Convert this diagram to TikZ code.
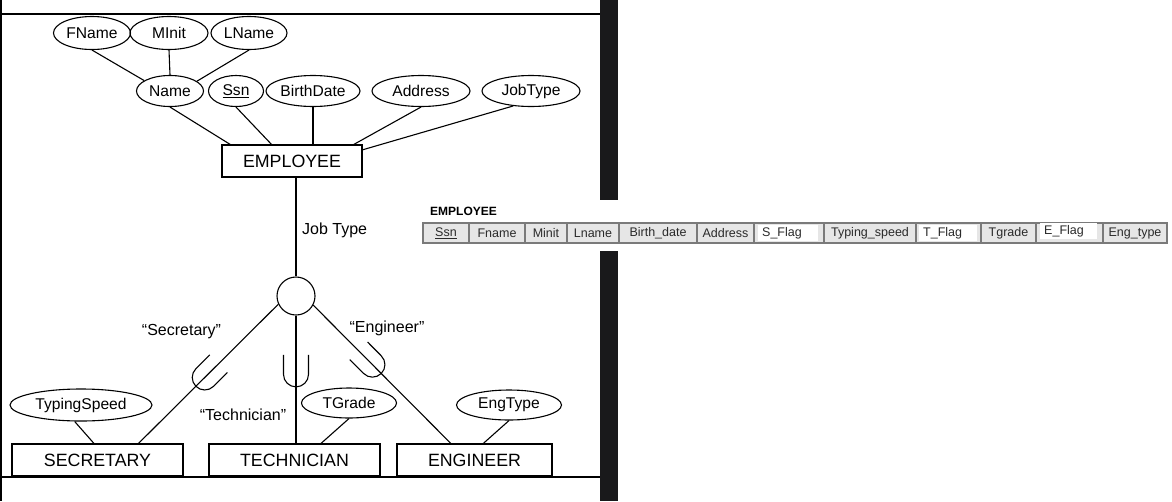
\documentclass[tikz,border=0pt]{standalone}
\usepackage{fontspec}
\setmainfont{Liberation Sans}
\usetikzlibrary{shapes.geometric}
\definecolor{strip}{HTML}{19191B}
\definecolor{cellgray}{HTML}{E6E6E6}
\definecolor{celledge}{HTML}{7A7A7A}
\definecolor{celltext}{HTML}{2A2A2A}
\tikzset{
  attr/.style={draw, ellipse, line width=1.1pt, inner sep=0pt, font=\fontsize{15.6}{18}\selectfont},
  entity/.style={draw, rectangle, line width=1.1pt, inner sep=0pt, minimum height=32pt, font=\fontsize{17.8}{20}\selectfont},
  lbl/.style={inner sep=0pt, font=\fontsize{16}{19}\selectfont},
  link/.style={line width=1.1pt},
  cell/.style={draw=celledge, fill=cellgray, line width=1.2pt, minimum height=20pt, inner sep=0pt, text=celltext, font=\fontsize{12.5}{14}\selectfont},
  flagbox/.style={fill=white, inner xsep=4pt, inner ysep=0pt, minimum height=16pt, anchor=west, align=left, text=celltext, font=\fontsize{12.5}{14}\selectfont},
  subsetsym/.pic={\draw[link] (-19.5,-12.5) -- (0,-12.5) arc(-90:90:12.5) -- (-19.5,12.5);}
}
\begin{document}
\begin{tikzpicture}[x=1pt, y=-1pt]
    \useasboundingbox (0,0) rectangle (1172,501);
    % frame and dark strip
    \fill[strip] (600,0) rectangle (618,200);
    \fill[strip] (600,251) rectangle (618,501);
    \draw[link] (0,14) -- (600,14);
    \draw[link] (1,0) -- (1,501);
    \draw[link] (0,477) -- (600,477);

    % attributes
    \node[attr, minimum width=77pt, minimum height=33pt] (fname) at (92,33) {FName};
    \node[attr, minimum width=78pt, minimum height=33pt] (minit) at (169,33) {MInit};
    \node[attr, minimum width=76pt, minimum height=33pt] (lname) at (249,33) {LName};
    \node[attr, minimum width=67pt, minimum height=31pt] (name) at (170,91) {Name};
    \node[attr, minimum width=55pt, minimum height=31pt] (ssn) at (236,91) {\underline{Ssn}};
    \node[attr, minimum width=94pt, minimum height=31pt] (bdate) at (313,91) {BirthDate};
    \node[attr, minimum width=98pt, minimum height=31pt] (addr) at (421,91) {Address};
    \node[attr, minimum width=98pt, minimum height=31pt] (jobt) at (531,91) {JobType};
    \node[attr, minimum width=142pt, minimum height=32pt] (tspeed) at (81,405) {TypingSpeed};
    \node[attr, minimum width=95pt, minimum height=30pt] (tgrade) at (349,403) {TGrade};
    \node[attr, minimum width=105pt, minimum height=30pt] (engt) at (509,405) {EngType};

    % entities
    \node[entity, minimum width=140pt] (emp) at (292,161) {EMPLOYEE};
    \node[draw, circle, line width=1.1pt, minimum size=38pt, inner sep=0pt] (circ) at (296,296) {};
    \node[entity, minimum width=171pt] (sec) at (97.5,460) {SECRETARY};
    \node[entity, minimum width=171pt] (tech) at (294.5,460) {TECHNICIAN};
    \node[entity, minimum width=155pt] (eng) at (474.5,460) {ENGINEER};

    % labels
    \node[lbl, anchor=west] (jtlbl) at (302,230) {Job Type};
    \node[lbl] (seclbl) at (181.5,332) {“Secretary”};
    \node[lbl] (techlbl) at (243,415) {“Technician”};
    \node[lbl] (englbl) at (387,328) {“Engineer”};

    \draw[link] (fname.south) -- (name.158);
    \draw[link] (minit.south) -- (name.north);
    \draw[link] (lname.south) -- (name.20);
    \draw[link] (name.south) -- (emp.165);
    \draw[link] (ssn.south) -- (emp.141);
    \draw[link] (bdate.south) -- (bdate.south |- emp.north);
    \draw[link] (addr.south) -- (emp.15);
    \draw[link] (jobt.220) -- (emp.9);
    \draw[link] (circ.north |- emp.south) -- (circ.north);
    \draw[link] (circ.205) -- (sec.22) pic[pos=.526, sloped, allow upside down] {subsetsym};
    \draw[link] (circ.south) -- (circ.south |- tech.north) pic[pos=.46, sloped, allow upside down] {subsetsym};
    \draw[link] (circ.-28) -- (eng.145) pic[pos=.43, sloped, allow upside down] {subsetsym};
    \draw[link] (tspeed.249) -- (sec.102);
    \draw[link] (tgrade.south) -- (tech.32);
    \draw[link] (engt.south) -- (eng.62);

    % relation table
    \node[font=\bfseries\fontsize{12}{14}\selectfont, anchor=west, inner sep=0pt] (tbltitle) at (430,211) {EMPLOYEE};
    \foreach \cname/\xl/\xr/\ctext in {cssn/423/469/{\underline{Ssn}}, cfname/469/525/Fname, cminit/525/567/Minit, clname/567/619/Lname, cbdate/619/697/Birth\_date, caddr/697/754/Address, csflag/754/824/{}, ctspeed/824/916/Typing\_speed, ctflag/916/981/{}, ctgrade/981/1036/Tgrade, ceflag/1036/1103/{}, cengt/1103/1167/Eng\_type}
        \node[cell, minimum width={(\xr-\xl)*1pt}] (\cname) at ({(\xl+\xr)/2},233) {\ctext};
    \node[flagbox, text width=52pt] (sflag) at (758,233) {S\_Flag};
    \node[flagbox, text width=50pt] (tflag) at (919,233) {T\_Flag};
    \node[flagbox, text width=49pt] (eflag) at (1040,231) {E\_Flag};
\end{tikzpicture}
\end{document}
